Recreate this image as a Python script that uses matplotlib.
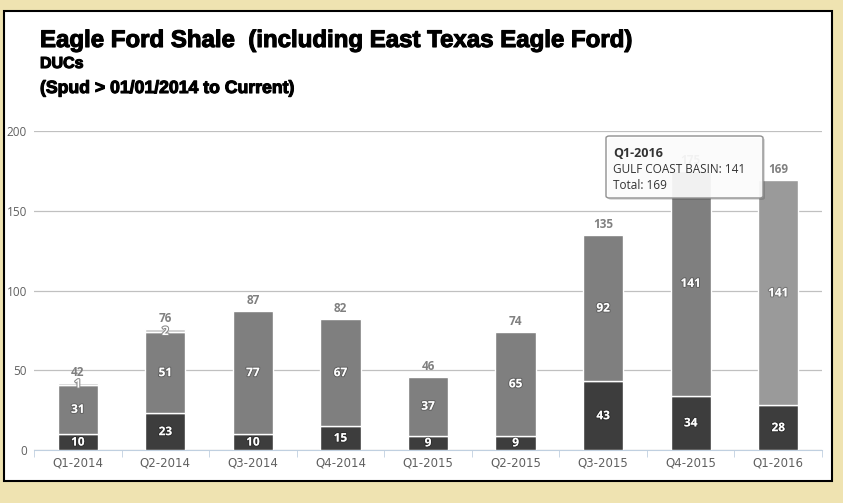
import matplotlib
matplotlib.use("Agg")
import matplotlib.pyplot as plt
from matplotlib.patches import Rectangle, FancyBboxPatch
import matplotlib.patheffects as pe

categories = ["Q1-2014", "Q2-2014", "Q3-2014", "Q4-2014", "Q1-2015",
              "Q2-2015", "Q3-2015", "Q4-2015", "Q1-2016"]
dark_vals = [10, 23, 10, 15, 9, 9, 43, 34, 28]
gulf_vals = [31, 51, 77, 67, 37, 65, 92, 141, 141]
light_vals = [1, 2, 0, 0, 0, 0, 0, 0, 0]
yticks = [0, 50, 100, 150, 200]

W, H = 843, 503
fig = plt.figure(figsize=(W / 100, H / 100), dpi=100)
fig.patch.set_facecolor("#EFE3B1")

# white panel with black border
fig.add_artist(Rectangle((4 / W, 1 - 481 / H), 828 / W, 470 / H,
                         transform=fig.transFigure, facecolor="white",
                         edgecolor="black", linewidth=1.5, zorder=0))

title_font = ["Liberation Sans", "DejaVu Sans"]
bold_stroke = [pe.withStroke(linewidth=0.8, foreground="black")]
fig.text(40 / W, 1 - 47 / H, "Eagle Ford Shale  (including East Texas Eagle Ford)",
         fontsize=17.3, fontweight="bold", family=title_font, color="black",
         va="baseline", path_effects=bold_stroke)
fig.text(40 / W, 1 - 68 / H, "DUCs", fontsize=11.5, fontweight="bold",
         family=title_font, va="baseline", path_effects=bold_stroke)
fig.text(40 / W, 1 - 93 / H, "(Spud > 01/01/2014 to Current)", fontsize=12.7,
         fontweight="bold", family=title_font, va="baseline",
         path_effects=bold_stroke)

ax = fig.add_axes([34 / W, 1 - 450 / H, 788 / W, 319 / H])
ax.set_facecolor("none")
ax.set_xlim(-0.5, len(categories) - 0.5)
ax.set_ylim(0, 200)

x = list(range(len(categories)))
bw = 0.46
gulf_colors = ["#7f7f7f"] * 8 + ["#9a9a9a"]
ax.bar(x, dark_vals, width=bw, color="#3d3d3d", edgecolor="white",
       linewidth=1, zorder=3)
ax.bar(x, gulf_vals, width=bw, bottom=dark_vals, color=gulf_colors,
       edgecolor="white", linewidth=1, zorder=3)
bottoms2 = [d + g for d, g in zip(dark_vals, gulf_vals)]
for i, v in enumerate(light_vals):
    if v > 0:
        ax.bar(i, v, width=bw, bottom=bottoms2[i], color="#c8c8c8",
               edgecolor="white", linewidth=1, zorder=3)

lab_font = ["Open Sans", "DejaVu Sans"]
shadow = [pe.withStroke(linewidth=1.5, foreground="#00000040")]
for i in x:
    ax.text(i, dark_vals[i] / 2, str(dark_vals[i]), ha="center", va="center",
            color="white", fontsize=8.5, fontweight="bold", family=lab_font,
            zorder=5, path_effects=shadow)
    ax.text(i, dark_vals[i] + gulf_vals[i] / 2, str(gulf_vals[i]), ha="center",
            va="center", color="white", fontsize=8.5, fontweight="bold",
            family=lab_font, zorder=5, path_effects=shadow)
    if light_vals[i] > 0:
        ax.text(i, bottoms2[i] + 0.3, str(light_vals[i]), ha="center",
                va="center", color="white", fontsize=8.5, fontweight="bold",
                family=lab_font, zorder=5,
                path_effects=[pe.withStroke(linewidth=1.5, foreground="#888888")])
    total = dark_vals[i] + gulf_vals[i] + light_vals[i]
    ax.text(i, total + 2.5, str(total), ha="center", va="bottom",
            color="#808080", fontsize=8.5, fontweight="bold", family=lab_font,
            zorder=4)

ax.set_yticks(yticks)
ax.set_yticklabels([str(t) for t in yticks], color="#606060", fontsize=8.5,
                   family=lab_font)
ax.tick_params(axis="y", length=0, pad=5)
ax.grid(axis="y", color="#C0C0C0", linewidth=0.9, zorder=1)
ax.set_axisbelow(True)

ax.set_xticks(x)
ax.set_xticklabels(categories, color="#606060", fontsize=8.5,
                   family=["Liberation Sans Narrow", "DejaVu Sans"])
ax.set_xticks([i - 0.5 for i in range(len(categories) + 1)], minor=True)
ax.tick_params(axis="x", which="major", length=0, pad=5)
ax.tick_params(axis="x", which="minor", length=5, color="#C0D0E0")
for s in ["top", "right", "left"]:
    ax.spines[s].set_visible(False)
ax.spines["bottom"].set_color("#C0D0E0")

# tooltip
tx0, ty0, tw, th = 606 / W, 1 - 198 / H, 157 / W, 62 / H
fig.add_artist(FancyBboxPatch((tx0 + 2 / W, ty0 - 2 / H), tw, th,
                              boxstyle="round,pad=0,rounding_size=0.004",
                              transform=fig.transFigure, facecolor="#00000022",
                              edgecolor="none", zorder=10))
fig.add_artist(FancyBboxPatch((tx0, ty0), tw, th,
                              boxstyle="round,pad=0,rounding_size=0.004",
                              transform=fig.transFigure, facecolor="#FFFFFFE8",
                              edgecolor="#909090", linewidth=1, zorder=11))
fig.text(613 / W, 1 - 157 / H, "Q1-2016", fontsize=9, fontweight="bold",
         color="#333333", family=lab_font, zorder=12, va="baseline")
fig.text(613 / W, 1 - 173 / H, "GULF COAST BASIN: 141", fontsize=8.5,
         color="#333333", family=lab_font, zorder=12, va="baseline")
fig.text(613 / W, 1 - 189 / H, "Total: 169", fontsize=8.5,
         color="#333333", family=lab_font, zorder=12, va="baseline")

fig.savefig("out.png", dpi=100, facecolor=fig.get_facecolor())
